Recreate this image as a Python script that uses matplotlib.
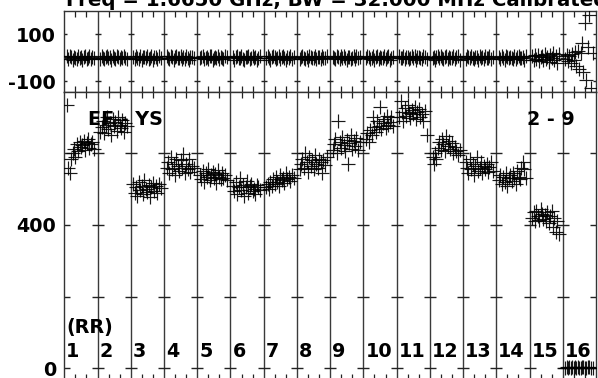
import numpy as np
import matplotlib
matplotlib.use("Agg")
import matplotlib.pyplot as plt

plt.rcParams["font.family"] = ["DejaVu Sans"]
plt.rcParams["font.weight"] = "bold"

# ------------------------------------------------------------------ data
TITLE = "Freq = 1.6650 GHz, BW = 32.000 MHz Calibrated"
BASELINE = "EF - YS"
SCANS = "2 - 9"
POL = "(RR)"
SEG_LABELS = [str(i) for i in range(1, 17)]

# sample times inside each segment (fraction of the segment)
T = [0.08, 0.12, 0.16, 0.20, 0.25, 0.29, 0.33, 0.37, 0.41, 0.46,
     0.50, 0.54, 0.58, 0.62, 0.67, 0.71, 0.75, 0.79, 0.84, 0.90]

AMP = [
    [735, 560, 545, 585, 600, 612, 590, 625, 605, 630, 618, 622, 635, 610, 628, 640, 615, 625, 632, 612],
    [660, 672, 690, 655, 680, 700, 668, 685, 650, 695, 675, 688, 662, 702, 678, 670, 692, 658, 684, 676],
    [515, 490, 505, 480, 520, 498, 510, 485, 525, 500, 492, 512, 478, 505, 518, 495, 508, 488, 515, 502],
    [560, 575, 545, 590, 555, 570, 540, 585, 565, 550, 580, 560, 598, 545, 570, 555, 585, 548, 565, 560],
    [540, 528, 550, 520, 545, 535, 555, 525, 538, 548, 530, 542, 518, 552, 535, 528, 545, 532, 540, 525],
    [510, 495, 520, 485, 505, 530, 498, 512, 480, 505, 522, 490, 508, 515, 495, 500, 485, 512, 505, 498],
    [505, 515, 500, 520, 510, 528, 515, 535, 520, 510, 540, 525, 530, 518, 545, 528, 535, 522, 540, 530],
    [555, 570, 585, 560, 600, 575, 548, 590, 565, 580, 555, 595, 570, 560, 585, 575, 545, 580, 568, 590],
    [610, 625, 640, 600, 690, 630, 615, 645, 622, 605, 638, 570, 628, 650, 612, 635, 620, 642, 608, 630],
    [640, 655, 630, 665, 650, 700, 672, 660, 690, 675, 730, 668, 685, 695, 670, 705, 680, 688, 700, 676],
    [700, 745, 715, 690, 725, 705, 735, 712, 698, 720, 708, 728, 695, 715, 722, 702, 710, 690, 718, 650],
    [590, 570, 600, 585, 615, 630, 610, 640, 625, 605, 648, 620, 635, 612, 628, 600, 618, 605, 595, 610],
    [575, 560, 545, 585, 555, 570, 540, 565, 590, 550, 560, 575, 545, 565, 555, 570, 548, 562, 575, 550],
    [525, 540, 515, 535, 520, 545, 510, 530, 538, 522, 545, 530, 515, 550, 535, 528, 560, 575, 555, 532],
    [420, 435, 410, 440, 425, 415, 445, 430, 418, 428, 412, 435, 405, 425, 440, 395, 420, 380, 410, 375],
    [2, 4, 1, 3, 0, 5, 2, 3, 1, 4, 2, 0, 3, 5, 1, 2, 4, 3, 1, 2],
]

PHASE = [
    [6, -4, 9, 2, -8, 4, 0, -6, 8, -2, 4, -9, 2, 6, -4, 0, 8, -6, 2, -2],
    [-4, 8, 0, -6, 4, 9, -2, 2, -8, 6, 0, -4, 8, 2, -6, 4, -2, 9, 0, -4],
    [2, -6, 8, 0, -4, 6, -9, 4, 2, -2, 8, -4, 0, 6, -8, 2, 4, -6, 9, 0],
    [8, 0, -4, 6, 2, -8, 4, 9, -2, 0, 6, -6, 2, -4, 8, 0, -9, 4, 2, -2],
    [-2, 4, 9, -6, 0, 2, -4, 8, 6, -8, 0, 4, -2, 9, -6, 2, 0, -4, 6, 4],
    [4, -8, 2, 6, -2, 0, 8, -4, -9, 4, 2, 6, -6, 0, 8, -2, 4, -8, 0, 6],
    [0, 6, -2, -8, 4, 8, 2, -6, 0, 9, -4, 2, 6, -2, -8, 4, 0, 8, -4, 2],
    [-6, 2, 8, 0, -4, 4, -9, 6, 2, -2, 0, 8, -6, 4, 2, -4, 9, 0, -2, 6],
    [4, 0, -6, 9, 2, -4, 6, -2, 8, 0, -8, 4, 2, -6, 0, 6, -4, 8, -2, 4],
    [-2, 8, 4, -4, 0, 6, -8, 2, 9, -6, 4, 0, -2, 8, -4, 2, 6, -9, 0, 4],
    [6, -2, 0, 8, -6, 2, 4, -4, 0, 9, -2, 6, -8, 2, 4, 0, -6, 8, 2, -4],
    [0, 4, -8, 2, 6, -2, 9, 0, -4, 4, 8, -6, 2, 0, -2, 6, -4, 2, 8, -8],
    [-4, 6, 2, -2, 8, 0, -6, 4, 2, -9, 6, 0, 4, -4, 8, -2, 0, 6, -6, 2],
    [2, -4, 6, 0, -8, 9, 2, -2, 4, 0, -6, 8, -4, 2, 6, -2, 0, 4, -8, 6],
    [6, -8, 10, -4, 12, -14, 2, 8, -10, 16, -6, 4, -18, 10, -2, 20, -12, 8, -22, 14],
    [-5, 10, -15, 6, -22, 14, -10, 25, -35, 30, -50, 22, 62, -62, 150, -96, 45, 182, -130, 18],
]

# ------------------------------------------------------------------ axes
fig = plt.figure(figsize=(5.98, 3.78), dpi=100)
L, W = 64.3 / 598, (596 - 64.3) / 598
ax_ph = fig.add_axes([L, 1 - 91.7 / 378, W, (91.7 - 10.5) / 378])
ax_am = fig.add_axes([L, 1 - 380 / 378, W, (380 - 91.7) / 378])

NSEG = len(AMP)
FS = 13.8
mk = dict(ls="none", marker="+", ms=10.5, mew=0.85, color="black", alpha=0.9, zorder=3)

for k in range(NSEG):
    x = k + np.array(T)
    ax_ph.plot(x, PHASE[k], **mk)
    ax_am.plot(x, AMP[k], **mk)

for ax, ylim, yt, ylab, dtick in [
    (ax_ph, (-145.8, 201.9), [-100, 0, 100], ["-100", "", "100"], 0.09),
    (ax_am, (-32.1, 771.5), [0, 200, 400, 600], ["0", "", "400", ""], 0.18),
]:
    ax.set_xlim(0, NSEG)
    ax.set_ylim(*ylim)
    for k in range(1, NSEG):
        ax.axvline(k, color="#3a3a3a", lw=1.0, zorder=1)
    for k in range(NSEG + 1):
        ax.hlines(yt, k - dtick, k + dtick, color="#222222", lw=1.0, zorder=1)
    ax.set_yticks(yt)
    ax.set_yticklabels(ylab, fontsize=FS, fontweight="bold")
    ax.tick_params(axis="y", length=0, pad=6)
    ax.set_xticks([])
    ax.set_xticks([k + f for k in range(NSEG) for f in (1 / 3, 2 / 3)], minor=True)
    ax.tick_params(axis="x", which="minor", direction="in", top=True, bottom=True,
                   length=4, width=0.9, color="#222222", labelbottom=False)
    for sp in ax.spines.values():
        sp.set_color("#333333")
        sp.set_linewidth(1.0)

# ------------------------------------------------------------------ text
fig.text(66 / 598, 1 - 5.5 / 378, TITLE, fontsize=14.2, fontweight="bold",
         ha="left", va="baseline")
ax_am.text(0.713, 679, BASELINE, fontsize=FS, fontweight="bold", va="baseline", zorder=2)
ax_am.text(13.92, 679, SCANS, fontsize=FS, fontweight="bold", va="baseline", zorder=2)
ax_am.text(0.05, 99, POL, fontsize=FS, fontweight="bold", va="baseline", zorder=2)
for k, lab in enumerate(SEG_LABELS):
    ax_am.text(k + 0.06, 32, lab, fontsize=FS, fontweight="bold", va="baseline", zorder=2)

fig.savefig("out.png", dpi=100)
